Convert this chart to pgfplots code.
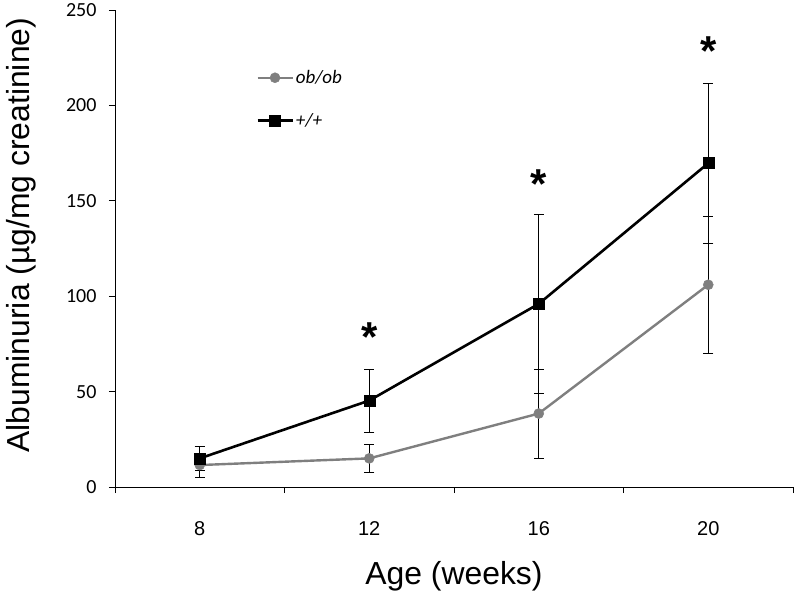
\documentclass[border=0pt]{standalone}
\usepackage{fontspec}
\setmainfont{Liberation Sans}
\font\carlitoT="Carlito" at 20bp
\font\carlitoI="Carlito/I" at 19bp
\font\arialT="Liberation Sans" at 20bp
\usepackage{pgfplots}
\pgfplotsset{compat=1.18}
\definecolor{obgray}{HTML}{7F7F7F}
\begin{document}
\begin{tikzpicture}
\begin{axis}[
  scale only axis,
  width=678bp, height=477bp,
  xmin=-0.5, xmax=3.5,
  ymin=0, ymax=250,
  axis x line=bottom, axis y line=left,
  axis line style={-, line width=1pt},
  tick align=outside,
  xtick={0,1,2,3},
  xticklabels={8,12,16,20},
  major x tick style={draw=none},
  minor xtick={-0.5,0.5,1.5,2.5,3.5},
  minor tick length=6bp,
  major tick length=6bp,
  every tick/.style={black, line width=0.8pt},
  ytick={0,50,...,250},
  /pgf/number format/assume math mode=true,
  yticklabel style={font=\carlitoT, xshift=-9bp},
  xticklabel style={font=\arialT, anchor=center, yshift=-36bp},
  xlabel={Age (weeks)},
  ylabel={Albuminuria (µg/mg creatinine)},
  xlabel style={at={(axis description cs:0.5,-0.1866)}, anchor=center, font=\fontsize{32}{32}\selectfont},
  ylabel style={at={(axis description cs:-0.1386,0.528)}, rotate=0, anchor=center, font=\fontsize{32}{32}\selectfont},
  legend style={draw=none, fill=none, at={(axis description cs:0.208,0.878)}, anchor=north west,
    font=\carlitoI, row sep=24bp, inner sep=0pt,
    nodes={inner sep=2bp}},
  legend cell align=left,
  legend image code/.code={\draw[mark repeat=2,mark phase=2] plot coordinates {(0bp,0bp)(17.5bp,0bp)(35bp,0bp)};},
  error bars/error bar style={black, line width=0.8pt},
  error bars/error mark options={black, line width=0.8pt, rotate=90, mark size=5bp},
]
\addplot[obgray, line width=2.4bp, mark=*, mark size=5bp, mark options={fill=obgray, draw=obgray, line width=0.5bp},
  error bars/.cd, y dir=both, y explicit]
  coordinates {
    (0,11.5) +- (0,6.3)
    (1,15) +- (0,7.5)
    (2,38.5) +- (0,23.3)
    (3,106) +- (0,35.8)
  };
\addlegendentry{ob/ob}
\addplot[black, line width=2.6bp, mark=square*, mark size=5.5bp, mark options={fill=black, draw=black, line width=0.5bp},
  error bars/.cd, y dir=both, y explicit]
  coordinates {
    (0,15) +- (0,6.5)
    (1,45.3) +- (0,16.5)
    (2,96) +- (0,46.7)
    (3,169.7) +- (0,41.8)
  };
\addlegendentry{+/+}
\node[font=\bfseries\fontsize{42}{42}\selectfont, inner sep=0pt] at (axis cs:1,78.5) {*};
\node[font=\bfseries\fontsize{42}{42}\selectfont, inner sep=0pt] at (axis cs:2,159) {*};
\node[font=\bfseries\fontsize{42}{42}\selectfont, inner sep=0pt] at (axis cs:3,228.5) {*};
\end{axis}
\pgfresetboundingbox
\path (-115bp,-106bp) rectangle (682bp,487bp);
\end{tikzpicture}
\end{document}
